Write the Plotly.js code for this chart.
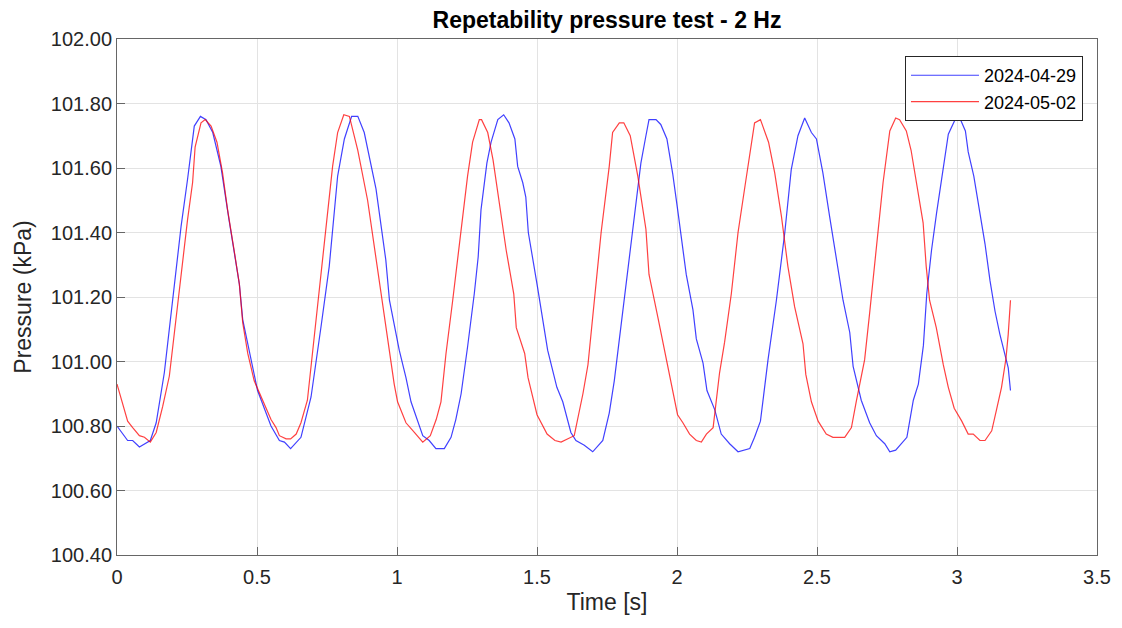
<!DOCTYPE html>
<html><head><meta charset="utf-8">
<script src="https://cdn.plot.ly/plotly-3.0.1.min.js"></script>
<style>html,body{margin:0;padding:0;background:#fff}#chart{width:1122px;height:628px}</style>
</head><body><div id="chart"></div>
<script>
const seriesNames = ["2024-04-29", "2024-05-02"];

const timeA = [0.000,0.038,0.056,0.080,0.119,0.140,0.169,0.199,0.229,0.252,0.276,0.298,0.318,0.342,0.371,0.400,0.437,0.449,0.473,0.502,0.550,0.580,0.598,0.620,0.657,0.693,0.729,0.758,0.788,0.812,0.838,0.860,0.883,0.925,0.960,0.973,1.008,1.032,1.050,1.092,1.115,1.139,1.169,1.193,1.210,1.229,1.252,1.276,1.290,1.300,1.321,1.336,1.360,1.381,1.400,1.421,1.431,1.449,1.460,1.469,1.502,1.538,1.571,1.592,1.621,1.639,1.669,1.699,1.735,1.758,1.776,1.800,1.824,1.842,1.871,1.889,1.900,1.925,1.942,1.964,1.985,2.004,2.033,2.057,2.069,2.093,2.107,2.135,2.158,2.188,2.218,2.260,2.277,2.298,2.325,2.355,2.385,2.408,2.432,2.456,2.480,2.498,2.521,2.545,2.569,2.593,2.617,2.629,2.658,2.688,2.712,2.742,2.760,2.781,2.821,2.844,2.862,2.880,2.892,2.909,2.927,2.951,2.969,2.993,3.010,3.030,3.040,3.060,3.082,3.100,3.118,3.136,3.153,3.175,3.183,3.191];
const pressureA = [100.800,100.755,100.755,100.735,100.755,100.810,100.965,101.190,101.420,101.565,101.730,101.760,101.750,101.710,101.605,101.440,101.240,101.130,101.025,100.910,100.800,100.755,100.750,100.730,100.765,100.890,101.110,101.295,101.575,101.690,101.760,101.760,101.710,101.535,101.315,101.190,101.035,100.950,100.875,100.770,100.755,100.730,100.730,100.765,100.820,100.900,101.045,101.210,101.325,101.470,101.615,101.680,101.750,101.765,101.740,101.690,101.605,101.555,101.510,101.400,101.230,101.035,100.920,100.875,100.780,100.755,100.740,100.720,100.755,100.840,100.940,101.110,101.280,101.410,101.615,101.700,101.750,101.750,101.735,101.690,101.580,101.460,101.270,101.160,101.070,100.995,100.910,100.850,100.775,100.745,100.720,100.730,100.765,100.815,101.005,101.190,101.400,101.595,101.700,101.755,101.710,101.690,101.585,101.450,101.315,101.190,101.090,100.985,100.880,100.810,100.770,100.745,100.720,100.725,100.765,100.880,100.930,101.050,101.210,101.345,101.460,101.605,101.705,101.750,101.755,101.715,101.650,101.575,101.460,101.365,101.250,101.155,101.085,101.010,100.980,100.910];

const timeB = [0.000,0.038,0.056,0.080,0.098,0.119,0.140,0.163,0.187,0.205,0.229,0.252,0.270,0.279,0.300,0.315,0.336,0.357,0.377,0.395,0.420,0.437,0.449,0.467,0.490,0.515,0.532,0.550,0.568,0.580,0.604,0.620,0.640,0.657,0.680,0.693,0.710,0.740,0.770,0.788,0.810,0.830,0.860,0.895,0.930,0.955,0.990,1.002,1.032,1.062,1.092,1.119,1.140,1.157,1.175,1.199,1.229,1.252,1.270,1.294,1.302,1.324,1.343,1.367,1.390,1.417,1.426,1.456,1.468,1.500,1.536,1.564,1.586,1.633,1.645,1.664,1.682,1.705,1.729,1.758,1.770,1.794,1.810,1.833,1.860,1.889,1.900,1.931,1.967,2.002,2.021,2.045,2.069,2.087,2.105,2.129,2.152,2.170,2.194,2.218,2.243,2.260,2.277,2.298,2.327,2.349,2.373,2.396,2.420,2.450,2.460,2.480,2.504,2.533,2.557,2.599,2.623,2.640,2.670,2.688,2.712,2.736,2.760,2.781,2.795,2.819,2.836,2.855,2.879,2.890,2.902,2.926,2.951,2.969,2.990,3.017,3.040,3.058,3.082,3.100,3.124,3.141,3.159,3.175,3.183,3.191];
const pressureB = [100.930,100.815,100.795,100.770,100.765,100.750,100.780,100.860,100.955,101.090,101.265,101.440,101.555,101.665,101.740,101.750,101.730,101.680,101.585,101.470,101.335,101.240,101.120,101.025,100.940,100.890,100.860,100.820,100.795,100.770,100.760,100.760,100.775,100.810,100.880,100.985,101.140,101.380,101.605,101.710,101.765,101.760,101.655,101.500,101.290,101.140,100.930,100.875,100.810,100.780,100.750,100.770,100.820,100.875,101.025,101.190,101.400,101.575,101.680,101.750,101.750,101.710,101.625,101.480,101.345,101.210,101.105,101.025,100.950,100.835,100.775,100.755,100.750,100.770,100.820,100.900,100.990,101.190,101.400,101.605,101.710,101.740,101.740,101.700,101.575,101.410,101.270,101.140,100.980,100.835,100.810,100.775,100.755,100.750,100.775,100.795,100.965,101.060,101.210,101.400,101.545,101.650,101.740,101.750,101.680,101.585,101.450,101.295,101.170,101.055,100.960,100.875,100.815,100.775,100.765,100.765,100.795,100.875,101.005,101.150,101.345,101.555,101.715,101.755,101.750,101.715,101.655,101.555,101.430,101.295,101.190,101.105,100.990,100.920,100.855,100.815,100.775,100.775,100.755,100.755,100.785,100.850,100.920,101.010,101.085,101.190];

const xTicks = [0, 0.5, 1, 1.5, 2, 2.5, 3, 3.5];
const xTickLabels = ["0", "0.5", "1", "1.5", "2", "2.5", "3", "3.5"];
const yTicks = [100.4, 100.6, 100.8, 101.0, 101.2, 101.4, 101.6, 101.8, 102.0];
const yTickLabels = ["100.40", "100.60", "100.80", "101.00", "101.20", "101.40", "101.60", "101.80", "102.00"];

const fontFam = "Liberation Sans, Arial, sans-serif";
const traces = [
  {x: timeA, y: pressureA, name: seriesNames[0], type: "scatter", mode: "lines",
   line: {color: "rgba(0,0,255,0.75)", width: 1.2}},
  {x: timeB, y: pressureB, name: seriesNames[1], type: "scatter", mode: "lines",
   line: {color: "rgba(255,0,0,0.75)", width: 1.2}}
];
const axisCommon = {
  showline: true, mirror: true, linecolor: "#666666", linewidth: 1,
  ticks: "inside", ticklen: 8, tickcolor: "#666666", tickwidth: 1,
  showgrid: true, gridcolor: "#e3e3e3", gridwidth: 1, zeroline: false,
  tickfont: {family: fontFam, size: 20, color: "#262626"}
};
const layout = {
  width: 1122, height: 628,
  margin: {l: 117, r: 25, t: 39, b: 73},
  paper_bgcolor: "#fff", plot_bgcolor: "#fff",
  title: {text: "<b>Repetability pressure test - 2 Hz</b>", x: 0.5, xref: "paper", xanchor: "center", y: 0.968, yanchor: "middle",
          font: {family: fontFam, size: 23, color: "#000"}},
  xaxis: Object.assign({}, axisCommon, {range: [0, 3.5], tickvals: xTicks, ticktext: xTickLabels, ticklabelstandoff: 4,
          title: {text: "Time [s]", font: {family: fontFam, size: 23, color: "#262626"}, standoff: 6}}),
  yaxis: Object.assign({}, axisCommon, {range: [100.4, 102.0], tickvals: yTicks, ticktext: yTickLabels,
          title: {text: "Pressure (kPa)", font: {family: fontFam, size: 23, color: "#262626"}, standoff: 12}}),
  showlegend: true,
  legend: {x: 0.9857, y: 0.967, xanchor: "right", yanchor: "top", bgcolor: "#fff", bordercolor: "#262626", borderwidth: 1,
           font: {family: fontFam, size: 18, color: "#000"}, itemwidth: 68, tracegroupgap: 0}
};
Plotly.newPlot("chart", traces, layout, {displayModeBar: false, staticPlot: true});
</script></body></html>
